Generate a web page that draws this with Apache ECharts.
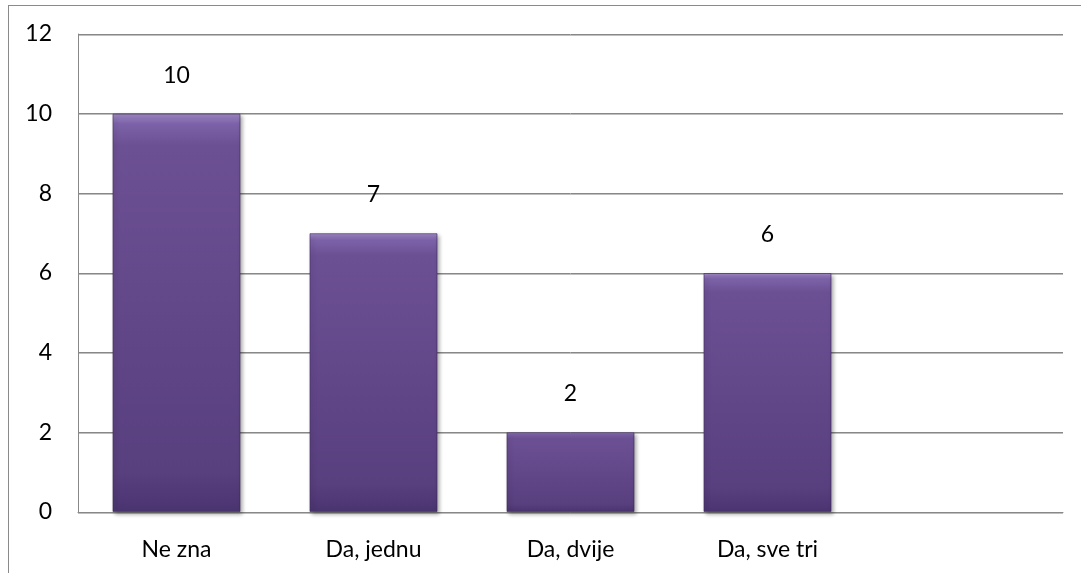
<!DOCTYPE html>
<html>
<head>
<meta charset="utf-8">
<script src="https://cdn.jsdelivr.net/npm/echarts@6/dist/echarts.min.js"></script>
<style>
  body { margin: 0; background: #fff; }
  #wrap { position: relative; width: 1081px; height: 573px; }
  #chart { width: 1081px; height: 573px; }
  /* outer chart-area frame (only top and left edges are visible) */
  #frame {
    position: absolute; left: 8px; top: 5px; right: -2px; bottom: -2px;
    border-top: 1px solid #8a8a8a; border-left: 1px solid #8a8a8a;
    pointer-events: none;
  }
</style>
</head>
<body>
<div id="wrap">
  <div id="chart"></div>
  <div id="frame"></div>
</div>
<script>
// Data
const categories = ["Ne zna", "Da, jednu", "Da, dvije", "Da, sve tri", ""];
const values = [10, 7, 2, 6, null];
const yTicks = { min: 0, max: 12, interval: 2 };

const fontFamily = "Lato, 'Open Sans', sans-serif";
const fontSize = 23;
const gridColor = "#888888";

const chart = echarts.init(document.getElementById("chart"));
const option = {
  animation: false,
  grid: {
    left: 78,
    right: 18,
    top: 34,
    bottom: 61,
  },
  xAxis: {
    type: "category",
    data: categories,
    axisLine: { show: true, lineStyle: { color: gridColor, width: 1 } },
    axisTick: { show: false },
    axisLabel: {
      color: "#000",
      fontSize: fontSize,
      fontFamily: fontFamily,
      margin: 26,
    },
  },
  yAxis: {
    type: "value",
    min: yTicks.min,
    max: yTicks.max,
    interval: yTicks.interval,
    axisLine: { show: true, lineStyle: { color: gridColor, width: 1 } },
    axisTick: { show: false },
    axisLabel: {
      color: "#000",
      fontSize: fontSize,
      fontFamily: fontFamily,
      margin: 26,
    },
    splitLine: {
      show: true,
      lineStyle: {
        color: gridColor,
        width: 1,
        shadowColor: "rgba(0,0,0,0.25)",
        shadowOffsetY: 1,
      },
    },
  },
  series: [
    {
      type: "bar",
      data: values,
      barWidth: "65%",
      itemStyle: {
        color: new echarts.graphic.LinearGradient(0, 0, 0, 1, [
          { offset: 0, color: "#a08ac6" },
          { offset: 0.025, color: "#7c62a8" },
          { offset: 0.08, color: "#6c5094" },
          { offset: 0.9, color: "#583f7e" },
          { offset: 1, color: "#4a3470" },
        ]),
        borderColor: "rgba(60,40,90,0.6)",
        borderWidth: 1,
        shadowColor: "rgba(0,0,0,0.35)",
        shadowBlur: 4,
        shadowOffsetX: 2,
        shadowOffsetY: 2,
      },
      label: {
        show: true,
        position: "top",
        distance: 27,
        color: "#000",
        fontSize: fontSize,
        fontFamily: fontFamily,
      },
    },
  ],
};
chart.setOption(option);
</script>
</body>
</html>
